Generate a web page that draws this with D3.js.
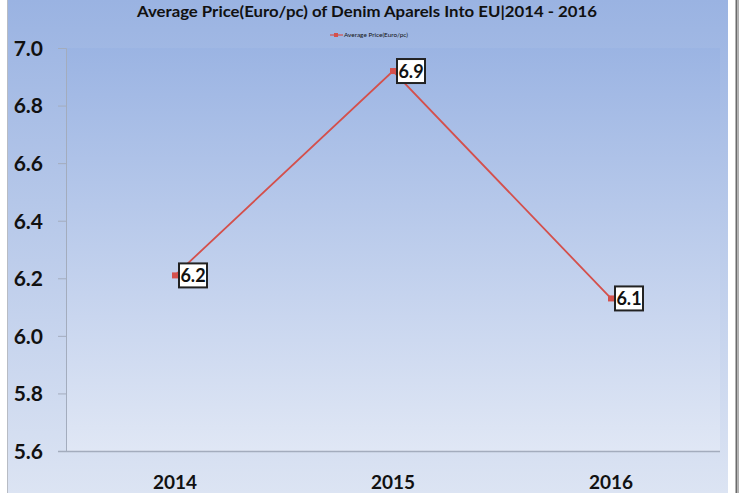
<!DOCTYPE html>
<html><head><meta charset="utf-8">
<script src="https://cdn.jsdelivr.net/npm/d3@7"></script>
<style>html,body{margin:0;padding:0;background:#fff;overflow:hidden}</style>
</head><body>
<svg id="c" width="740" height="493"></svg>
<script>
const years = ["2014", "2015", "2016"];
const avgPrice = [6.21, 6.92, 6.13];
const priceLabels = ["6.2", "6.9", "6.1"];
const yTicks = [5.6, 5.8, 6.0, 6.2, 6.4, 6.6, 6.8, 7.0];
const titleText = "Average Price(Euro/pc) of Denim Aparels Into EU|2014 - 2016";
const seriesName = "Average Price(Euro/pc)";

const svg = d3.select("#c");
const defs = svg.append("defs");
const g1 = defs.append("linearGradient").attr("id","bg").attr("x1",0).attr("y1",0).attr("x2",0).attr("y2",1);
g1.append("stop").attr("offset","0%").attr("stop-color","#9ab3e2");
g1.append("stop").attr("offset","100%").attr("stop-color","#dce4f3");
const g2 = defs.append("linearGradient").attr("id","pa").attr("x1",0).attr("y1",0).attr("x2",0).attr("y2",1);
g2.append("stop").attr("offset","0%").attr("stop-color","#9bb4e3");
g2.append("stop").attr("offset","100%").attr("stop-color","#e0e7f5");

// frame
svg.append("rect").attr("x",0).attr("y",0).attr("width",740).attr("height",493).attr("fill","#fff");
svg.append("rect").attr("x",8).attr("y",0).attr("width",720).attr("height",493).attr("fill","url(#bg)");
svg.append("line").attr("x1",7.5).attr("x2",7.5).attr("y1",0).attr("y2",493).attr("stroke","#b8bcc4").attr("stroke-width",1);
svg.append("line").attr("x1",736.5).attr("x2",736.5).attr("y1",0).attr("y2",493).attr("stroke","#6a6a6a").attr("stroke-width",2);
svg.append("line").attr("x1",738.5).attr("x2",738.5).attr("y1",0).attr("y2",493).attr("stroke","#b0b0b0").attr("stroke-width",1);

const pL = 66, pR = 720, pT = 48, pB = 451;
svg.append("rect").attr("x",pL).attr("y",pT).attr("width",pR-pL).attr("height",pB-pT).attr("fill","url(#pa)");

const x = d3.scaleBand().domain(years).range([pL, pR]);
const y = d3.scaleLinear().domain([5.6, 7.0]).range([pB, pT]);

// y axis
const yAxis = d3.axisLeft(y).tickValues(yTicks).tickFormat(d3.format(".1f")).tickSize(8).tickPadding(15);
const ya = svg.append("g").attr("transform",`translate(${pL},0)`).call(yAxis);
ya.select(".domain").attr("stroke","#a3acbd");
ya.selectAll(".tick line").attr("stroke","#a3acbd");
ya.selectAll(".tick text").attr("fill","#111").attr("font-family","Lato, 'Open Sans', sans-serif")
  .attr("font-weight","bold").attr("font-size","21px").attr("dy","0.35em");

// x axis
const xAxis = d3.axisBottom(x).tickSize(0).tickPadding(21);
const xa = svg.append("g").attr("transform",`translate(0,${pB})`).call(xAxis);
xa.select(".domain").remove();
svg.append("line").attr("x1",pL-8).attr("x2",pR).attr("y1",pB+0.5).attr("y2",pB+0.5).attr("stroke","#a3acbd").attr("stroke-width",1.5);
xa.selectAll(".tick text").attr("fill","#111").attr("font-family","Lato, 'Open Sans', sans-serif")
  .attr("font-weight","bold").attr("font-size","19px").attr("dy","0.9em");

const data = years.map((yr,i)=>({yr, v:avgPrice[i], lab:priceLabels[i]}));
const cx = d => x(d.yr) + x.bandwidth()/2;

svg.append("path").datum(data)
  .attr("d", d3.line().x(cx).y(d=>y(d.v)))
  .attr("fill","none").attr("stroke","#d4504c").attr("stroke-width",1.8);

svg.selectAll(".mk").data(data).enter().append("rect")
  .attr("x",d=>cx(d)-3).attr("y",d=>y(d.v)-3).attr("width",6).attr("height",6).attr("fill","#d4504c");

// labels
const lg = svg.selectAll(".lb").data(data).enter().append("g").attr("transform",d=>`translate(${cx(d)+4},${y(d.v)})`);
lg.append("rect").attr("x",0).attr("y",-12).attr("width",28).attr("height",24).attr("fill","#fff").attr("stroke","#222").attr("stroke-width",2);
lg.append("text").attr("x",14).attr("y",0).attr("dy","0.36em").attr("text-anchor","middle")
  .attr("font-family","Lato, 'Open Sans', sans-serif").attr("font-weight","bold").attr("font-size","18px").attr("fill","#111")
  .text(d=>d.lab);

// title
svg.append("text").attr("x",367).attr("y",17).attr("text-anchor","middle")
  .attr("font-family","Lato, 'Open Sans', sans-serif").attr("font-weight","bold").attr("font-size","16px").attr("fill","#111")
  .attr("textLength",460).attr("lengthAdjust","spacingAndGlyphs")
  .text(titleText);

// legend
svg.append("line").attr("x1",330).attr("x2",343).attr("y1",35).attr("y2",35).attr("stroke","#d4504c").attr("stroke-width",1.2);
svg.append("rect").attr("x",334).attr("y",33).attr("width",4).attr("height",4).attr("fill","#d4504c");
svg.append("text").attr("x",344).attr("y",35).attr("dy","0.35em")
  .attr("font-family","Lato, 'Open Sans', sans-serif").attr("font-size","6px").attr("fill","#111")
  .attr("textLength",64).attr("lengthAdjust","spacingAndGlyphs")
  .text(seriesName);
</script>
</body></html>
